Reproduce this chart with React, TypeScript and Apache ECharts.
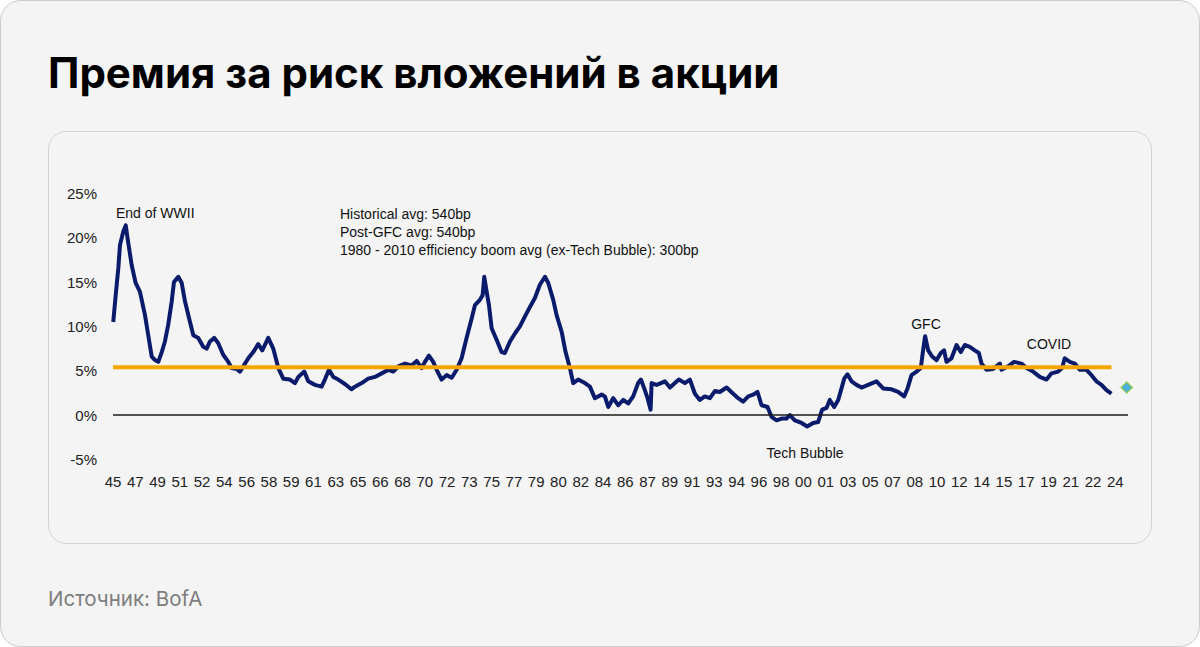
import React, { useEffect, useRef } from 'react';
import * as echarts from 'echarts';

const titleText = 'Премия за риск вложений в акции';
const sourceText = 'Источник: BofA';

const tickLabels = [
  '45', '47', '49', '51', '52', '54', '56', '58', '59', '61',
  '63', '65', '66', '68', '70', '72', '73', '75', '77', '79',
  '80', '82', '84', '86', '87', '89', '91', '93', '94', '96',
  '98', '00', '01', '03', '05', '07', '08', '10', '12', '14',
  '15', '17', '19', '21', '22', '24',
];
const tickStart = 1945.75;
const tickStep = 1.75;

const years = [
  1945.77, 1945.96, 1946.17, 1946.30, 1946.56, 1946.75, 1946.90, 1947.22, 1947.53, 1947.87,
  1948.26, 1948.52, 1948.79, 1949.05, 1949.31, 1949.58, 1949.83, 1950.09, 1950.36, 1950.54,
  1950.88, 1951.15, 1951.41, 1951.80, 1952.06, 1952.45, 1952.84, 1953.11, 1953.37, 1953.71,
  1954.02, 1954.41, 1954.81, 1955.07, 1955.47, 1955.73, 1955.99, 1956.38, 1956.77, 1957.16,
  1957.48, 1957.95, 1958.34, 1958.74, 1959.13, 1959.65, 1960.05, 1960.31, 1960.78, 1961.09,
  1961.62, 1962.14, 1962.40, 1962.72, 1963.06, 1963.45, 1963.97, 1964.50, 1964.76, 1965.29,
  1965.80, 1966.33, 1966.86, 1967.38, 1967.77, 1968.16, 1968.69, 1969.21, 1969.61, 1970.00,
  1970.26, 1970.57, 1970.91, 1971.18, 1971.57, 1971.96, 1972.36, 1972.75, 1973.14, 1973.53,
  1973.93, 1974.19, 1974.58, 1974.79, 1974.92, 1975.11, 1975.29, 1975.50, 1975.89, 1976.28,
  1976.54, 1976.94, 1977.33, 1977.72, 1978.11, 1978.51, 1978.90, 1979.29, 1979.69, 1979.95,
  1980.34, 1980.60, 1981.00, 1981.31, 1981.65, 1981.91, 1982.30, 1982.83, 1983.22, 1983.61,
  1984.14, 1984.40, 1984.66, 1985.05, 1985.45, 1985.84, 1986.23, 1986.62, 1987.01, 1987.23,
  1987.49, 1987.75, 1987.99, 1988.07, 1988.46, 1988.80, 1989.11, 1989.51, 1989.90, 1990.21,
  1990.68, 1991.08, 1991.47, 1991.86, 1992.25, 1992.65, 1993.04, 1993.43, 1993.96, 1994.48,
  1994.87, 1995.26, 1995.66, 1996.05, 1996.39, 1996.71, 1997.18, 1997.49, 1997.89, 1998.28,
  1998.67, 1998.93, 1999.32, 1999.85, 2000.29, 2000.76, 2001.15, 2001.47, 2001.81, 2002.07,
  2002.41, 2002.73, 2002.99, 2003.20, 2003.46, 2003.78, 2004.17, 2004.56, 2005.08, 2005.74,
  2006.26, 2006.92, 2007.44, 2007.91, 2008.18, 2008.49, 2008.88, 2009.22, 2009.40, 2009.56,
  2009.80, 2010.11, 2010.46, 2010.79, 2011.05, 2011.24, 2011.63, 2012.03, 2012.36, 2012.68,
  2013.07, 2013.46, 2013.78, 2013.99, 2014.38, 2014.90, 2015.43, 2015.56, 2016.08, 2016.55,
  2017.13, 2017.53, 2018.04, 2018.57, 2019.10, 2019.49, 2020.01, 2020.32, 2020.53, 2020.93,
  2021.32, 2021.71, 2022.24, 2022.63, 2023.02, 2023.42, 2023.81, 2024.20,
];

const premium = [
  10.5, 13.5, 16.6, 19.2, 20.7, 21.4, 19.9, 16.9, 14.9, 13.9,
  11.3, 9.0, 6.6, 6.2, 6.0, 7.1, 8.3, 10.2, 12.8, 15.0,
  15.6, 14.9, 12.8, 10.5, 9.0, 8.7, 7.7, 7.5, 8.3, 8.7,
  8.1, 6.8, 6.0, 5.3, 5.2, 4.9, 5.5, 6.4, 7.1, 8.0,
  7.3, 8.7, 7.5, 5.3, 4.1, 4.0, 3.6, 4.3, 4.9, 3.8,
  3.4, 3.2, 4.0, 5.1, 4.3, 4.0, 3.5, 2.9, 3.2, 3.6,
  4.1, 4.3, 4.7, 5.1, 4.9, 5.5, 5.8, 5.6, 6.1, 5.3,
  6.0, 6.7, 6.0, 5.1, 4.0, 4.5, 4.2, 5.1, 6.4, 8.7,
  10.9, 12.4, 13.0, 13.5, 15.6, 13.9, 12.4, 9.8, 8.5, 7.1,
  7.0, 8.3, 9.2, 10.0, 11.1, 12.2, 13.2, 14.7, 15.6, 14.9,
  13.0, 11.3, 9.4, 7.1, 5.3, 3.6, 4.0, 3.6, 3.2, 1.9,
  2.3, 2.1, 0.9, 1.9, 1.1, 1.7, 1.3, 2.1, 3.6, 4.0,
  3.0, 1.9, 0.6, 3.6, 3.4, 3.6, 3.8, 3.1, 3.6, 4.0,
  3.6, 4.0, 2.4, 1.7, 2.1, 1.9, 2.7, 2.6, 3.1, 2.4,
  1.9, 1.5, 2.1, 2.3, 2.6, 1.1, 0.9, -0.2, -0.6, -0.4,
  -0.4, 0.0, -0.6, -0.9, -1.3, -0.9, -0.8, 0.6, 0.8, 1.7,
  0.9, 1.7, 3.0, 4.1, 4.6, 3.8, 3.4, 3.1, 3.4, 3.8,
  3.0, 2.9, 2.6, 2.1, 3.0, 4.5, 4.9, 5.3, 7.3, 8.9,
  7.3, 6.6, 6.2, 7.0, 7.3, 6.0, 6.4, 7.9, 7.1, 7.9,
  7.7, 7.3, 7.0, 5.8, 5.1, 5.2, 5.8, 5.1, 5.5, 6.0,
  5.8, 5.3, 4.9, 4.3, 4.0, 4.7, 4.9, 5.3, 6.4, 6.0,
  5.8, 5.1, 5.1, 4.5, 3.8, 3.4, 2.8, 2.4,
];

const avgYears = [1945.75, 2024.2];
const avgValue = 5.4;
const latestYear = 2025.4;
const latestValue = 3.1;

const annotations = [
  { text: 'End of WWII', x: 116, y: 213, align: 'left' },
  { text: 'Historical avg: 540bp', x: 340, y: 214, align: 'left' },
  { text: 'Post-GFC avg: 540bp', x: 340, y: 232, align: 'left' },
  { text: '1980 - 2010 efficiency boom avg (ex-Tech Bubble): 300bp', x: 340, y: 250, align: 'left' },
  { text: 'Tech Bubble', x: 805, y: 453, align: 'center' },
  { text: 'GFC', x: 926, y: 324, align: 'center' },
  { text: 'COVID', x: 1049, y: 344, align: 'center' },
];

const chartFont = '"Liberation Sans Narrow", "Arial Narrow", "Liberation Sans", Arial, sans-serif';
const uiFont = 'Inter, Roboto, "Noto Sans", sans-serif';

export default function App() {
  const ref = useRef<HTMLDivElement>(null);

  useEffect(() => {
    if (!ref.current) return;
    const chart = echarts.init(ref.current, null, { renderer: 'svg' });
    const tickValues = tickLabels.map((_, i) => tickStart + i * tickStep);
    const labelOf = (v: number) => {
      const i = Math.round((v - tickStart) / tickStep);
      return tickLabels[i] ?? '';
    };

    chart.setOption({
      animation: false,
      graphic: [
        {
          type: 'rect', z: -10,
          shape: { x: 0.5, y: 0.5, width: 1199, height: 646, r: 20 },
          style: { fill: '#f4f4f4', stroke: '#cccccc', lineWidth: 1 },
        },
        {
          type: 'rect', z: -9,
          shape: { x: 48.5, y: 131.5, width: 1103, height: 412, r: 18 },
          style: { fill: '#f4f4f4', stroke: '#d2d2d2', lineWidth: 1 },
        },
        {
          type: 'text', x: 48, y: 72,
          style: {
            text: titleText, fill: '#000000', fontSize: 42, fontWeight: 700,
            fontFamily: uiFont, textVerticalAlign: 'middle',
          },
        },
        {
          type: 'text', x: 48, y: 598,
          style: {
            text: sourceText, fill: '#7d7d7d', fontSize: 20.5, fontWeight: 400,
            fontFamily: uiFont, textVerticalAlign: 'middle',
          },
        },
        ...annotations.map((a) => ({
          type: 'text', x: a.x, y: a.y, z: 10,
          style: {
            text: a.text, fill: '#111111', fontSize: 14, fontFamily: chartFont,
            textAlign: a.align, textVerticalAlign: 'middle',
          },
        })),
      ],
      grid: { left: 113, right: 72, top: 193.5, bottom: 187.7, containLabel: false },
      xAxis: {
        type: 'value',
        min: 1945.75,
        max: 2025.5,
        axisLine: { show: false },
        axisTick: { show: false },
        splitLine: { show: false },
        axisLabel: {
          customValues: tickValues,
          formatter: (v: number) => labelOf(v),
          color: '#222222', fontSize: 15, fontFamily: chartFont, margin: 15,
        },
      },
      yAxis: {
        type: 'value',
        min: -5,
        max: 25,
        interval: 5,
        axisLine: { show: false },
        axisTick: { show: false },
        splitLine: { show: false },
        axisLabel: {
          formatter: (v: number) => `${v}%`,
          color: '#222222', fontSize: 15, fontFamily: chartFont, margin: 16,
        },
      },
      series: [
        {
          type: 'line',
          name: 'ERP',
          data: years.map((y, i) => [y, premium[i]]),
          showSymbol: false,
          symbol: 'none',
          lineStyle: { color: '#0a1b6b', width: 4, join: 'round' },
          z: 3,
          markLine: {
            silent: true,
            symbol: 'none',
            label: { show: false },
            lineStyle: { color: '#1a1a1a', width: 1.5, type: 'solid' },
            data: [{ yAxis: 0 }],
          },
        },
        {
          type: 'line',
          name: 'Average',
          data: avgYears.map((y) => [y, avgValue]),
          showSymbol: false,
          symbol: 'none',
          lineStyle: { color: '#f7a600', width: 4 },
          z: 4,
        },
        {
          type: 'scatter',
          name: 'Latest',
          data: [[latestYear, latestValue]],
          symbol: 'diamond',
          symbolSize: 11,
          itemStyle: { color: '#1ea0dc', borderColor: '#8cc63f', borderWidth: 1.5 },
          z: 5,
        },
      ],
    });

    return () => chart.dispose();
  }, []);

  return (
    <div
      ref={ref}
      style={{ position: 'absolute', left: 0, top: 0, width: 1200, height: 647 }}
    />
  );
}
